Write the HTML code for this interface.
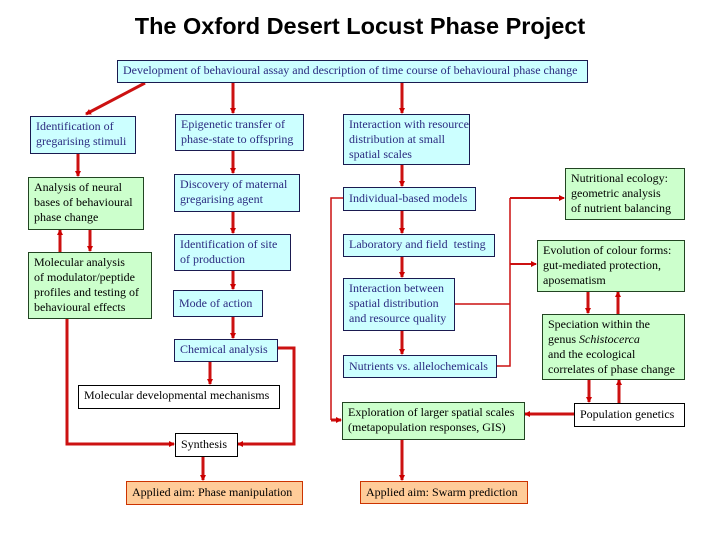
<!DOCTYPE html>
<html><head><meta charset="utf-8"><style>
body{margin:0;width:720px;height:540px;background:#fff;position:relative;overflow:hidden;font-family:"Liberation Serif",serif;}
.t{position:absolute;left:0;width:720px;top:13px;text-align:center;font:bold 23.5px "Liberation Sans",sans-serif;color:#000;}
.b{position:absolute;box-sizing:border-box;border:1.5px solid #1a1a50;font-size:12px;line-height:15px;padding:2px 5px;letter-spacing:0;white-space:nowrap;}
.c{background:#ccffff;color:#2b2b80;}
.g{background:#ccffcc;color:#000;border-color:#224422;}
.w{background:#fff;color:#000;border-color:#000;}
.o{background:#ffcc99;color:#000;border-color:#cc3300;}
svg{position:absolute;left:0;top:0;}
</style></head><body>
<div class="t">The Oxford Desert Locust Phase Project</div>
<svg width="720" height="540">
<defs><marker id="a" markerWidth="6" markerHeight="6" refX="5" refY="3" orient="auto" markerUnits="userSpaceOnUse"><path d="M0,0L6,3L0,6z" fill="#cc0000"/></marker></defs>
<g stroke="#cc1111" stroke-width="3" fill="none" marker-end="url(#a)">
<line x1="145" y1="83" x2="86" y2="114"/>
<line x1="233" y1="83" x2="233" y2="113"/>
<line x1="402" y1="83" x2="402" y2="113"/>
<line x1="78" y1="153" x2="78" y2="176"/>
<line x1="60" y1="252" x2="60" y2="230"/>
<line x1="90" y1="229" x2="90" y2="251"/>
<line x1="233" y1="150" x2="233" y2="173"/>
<line x1="233" y1="211" x2="233" y2="233"/>
<line x1="233" y1="270" x2="233" y2="289"/>
<line x1="233" y1="316" x2="233" y2="338"/>
<line x1="210" y1="361" x2="210" y2="384"/>
<line x1="203" y1="456" x2="203" y2="480"/>
<line x1="402" y1="164" x2="402" y2="186"/>
<line x1="402" y1="210" x2="402" y2="233"/>
<line x1="402" y1="256" x2="402" y2="277"/>
<line x1="402" y1="330" x2="402" y2="354"/>
<line x1="402" y1="439" x2="402" y2="480"/>
<line x1="588" y1="291" x2="588" y2="313"/>
<line x1="618" y1="314" x2="618" y2="292"/>
<line x1="589" y1="379" x2="589" y2="402"/>
<line x1="619" y1="403" x2="619" y2="380"/>
<line x1="574" y1="414" x2="525" y2="414"/>
<path d="M67 318V444H174"/>
<path d="M277 348H294V444H238"/>
<path d="M510 198H564" stroke-width="2"/>
<path d="M510 264H536" stroke-width="2"/>
</g>
<g stroke="#cc1111" stroke-width="1.5" fill="none">
<path d="M343 198H331V420"/>
<path d="M454 304H510"/>
<path d="M496 366H510V198"/>
</g>
<path d="M331 420H341" stroke="#cc1111" stroke-width="3" marker-end="url(#a)"/>
</svg>
<div class="b c" style="left:117px;top:60px;width:471px;height:23px;">Development of behavioural assay and description of time course of behavioural phase change</div>
<div class="b c" style="left:30px;top:116px;width:106px;height:38px;">Identification of<br>gregarising stimuli</div>
<div class="b g" style="left:28px;top:177px;width:116px;height:53px;">Analysis of neural<br>bases of behavioural<br>phase change</div>
<div class="b g" style="left:28px;top:252px;width:124px;height:67px;">Molecular analysis<br>of modulator/peptide<br>profiles and testing of<br>behavioural effects</div>
<div class="b c" style="left:175px;top:114px;width:129px;height:37px;">Epigenetic transfer of<br>phase-state to offspring</div>
<div class="b c" style="left:174px;top:174px;width:126px;height:38px;">Discovery of maternal<br>gregarising agent</div>
<div class="b c" style="left:174px;top:234px;width:117px;height:37px;">Identification of site<br>of production</div>
<div class="b c" style="left:173px;top:290px;width:90px;height:27px;padding-top:5px;">Mode of action</div>
<div class="b c" style="left:174px;top:339px;width:104px;height:23px;">Chemical analysis</div>
<div class="b w" style="left:78px;top:385px;width:202px;height:24px;">Molecular developmental mechanisms</div>
<div class="b w" style="left:175px;top:433px;width:63px;height:24px;padding-top:3px;">Synthesis</div>
<div class="b o" style="left:126px;top:481px;width:177px;height:24px;padding-top:3px;">Applied aim: Phase manipulation</div>
<div class="b c" style="left:343px;top:114px;width:127px;height:51px;">Interaction with resource<br>distribution at small<br>spatial scales</div>
<div class="b c" style="left:343px;top:187px;width:133px;height:24px;padding-top:3px;">Individual-based models</div>
<div class="b c" style="left:343px;top:234px;width:152px;height:23px;">Laboratory and field &nbsp;testing</div>
<div class="b c" style="left:343px;top:278px;width:112px;height:53px;">Interaction between<br>spatial distribution<br>and resource quality</div>
<div class="b c" style="left:343px;top:355px;width:154px;height:23px;padding-top:3px;">Nutrients vs. allelochemicals</div>
<div class="b g" style="left:342px;top:402px;width:183px;height:38px;">Exploration of larger spatial scales<br>(metapopulation responses, GIS)</div>
<div class="b o" style="left:360px;top:481px;width:168px;height:23px;padding-top:3px;">Applied aim: Swarm prediction</div>
<div class="b g" style="left:565px;top:168px;width:120px;height:52px;">Nutritional ecology:<br>geometric analysis<br>of nutrient balancing</div>
<div class="b g" style="left:537px;top:240px;width:148px;height:52px;">Evolution of colour forms:<br>gut-mediated protection,<br>aposematism</div>
<div class="b g" style="left:542px;top:314px;width:143px;height:66px;">Speciation within the<br>genus <i>Schistocerca</i><br>and the ecological<br>correlates of phase change</div>
<div class="b w" style="left:574px;top:403px;width:111px;height:24px;padding-top:3px;">Population genetics</div>
</body></html>
